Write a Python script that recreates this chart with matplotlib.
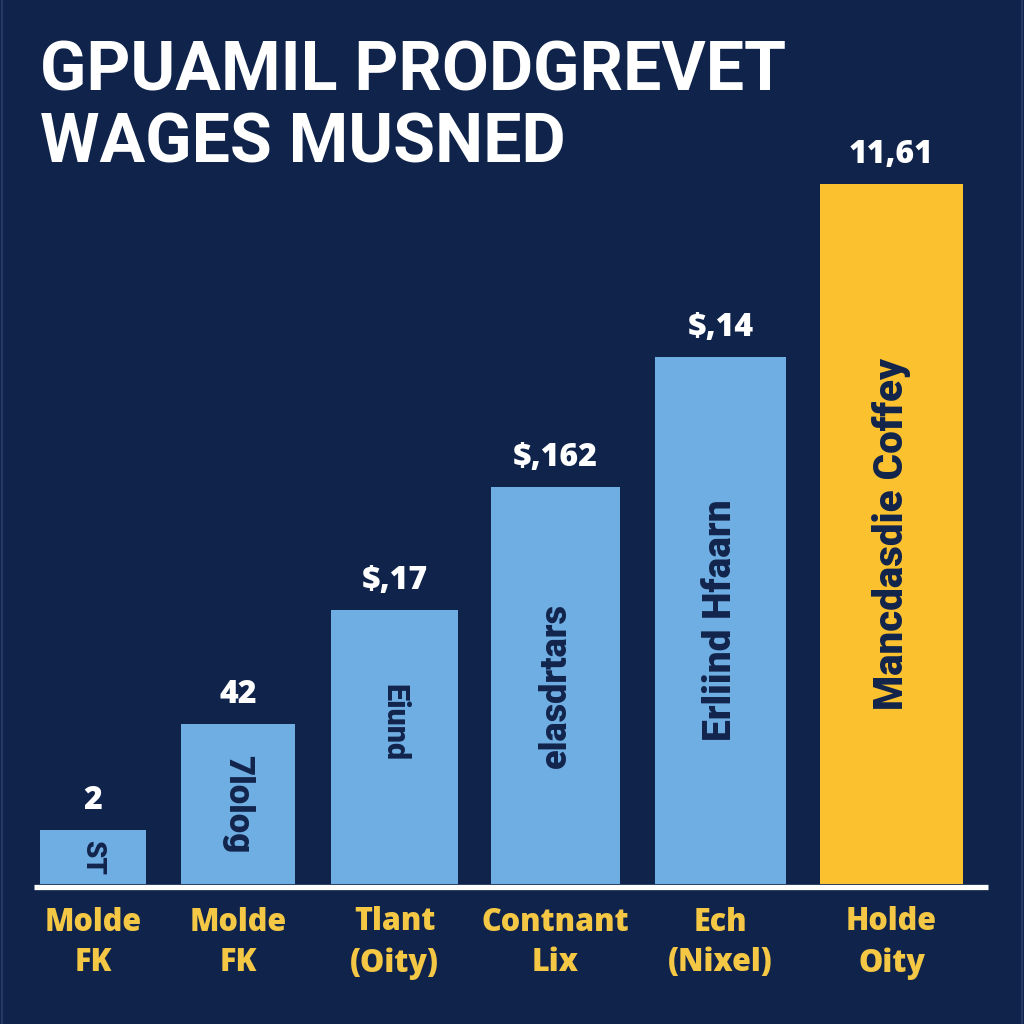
import matplotlib
matplotlib.use("Agg")
import matplotlib.pyplot as plt

# ---- data ----
categories = ["Molde\nFK", "Molde\nFK", "Tlant\n(Oity)", "Contnant\nLix", "Ech\n(Nixel)", "Holde\nOity"]
values = [54, 160, 274, 397, 527, 700]
value_labels = ["2", "42", "$,17", "$,162", "$,14", "11,61"]
inner_labels = ["ST", "7lolog", "Eiund", "elasdrtars", "Erliind Hfaarn", "Mancdasdie Coffey"]
title_lines = ["GPUAMIL PRODGREVET", "WAGES MUSNED"]

# ---- layout / style ----
BG = "#0f234b"
BLUE = "#6faee3"
GOLD = "#fbc12f"
NAVY = "#12244c"
YELLOW_TXT = "#f4c744"
bar_centers = [93, 238, 394.5, 555.5, 720.5, 891.5]
bar_widths = [106, 114, 127, 129, 131, 143]
bar_colors = [BLUE, BLUE, BLUE, BLUE, BLUE, GOLD]
inner_rot = [270, 270, 270, 90, 90, 90]
inner_size = [20, 25, 22, 26, 28, 29]
inner_shift = [0, 0, 25, 0, 0, 0]
base = 1024 - 884

fig = plt.figure(figsize=(10.24, 10.24), dpi=100, facecolor=BG)
ax = fig.add_axes([0, 0, 1, 1])
ax.set_facecolor(BG)
ax.set_xlim(0, 1024)
ax.set_ylim(0, 1024)
ax.axis("off")

ax.bar(bar_centers, values, width=bar_widths, bottom=base, color=bar_colors,
       edgecolor="none", zorder=2)
ax.plot([34, 988], [base - 2.5, base - 2.5], color="white", lw=3.8,
        solid_capstyle="butt", zorder=3)
# faint frame edges
ax.plot([1.5, 1.5], [0, 1024], color="#2a3e68", lw=1.2, zorder=1)
ax.plot([1021.5, 1021.5], [0, 1024], color="#2a3e68", lw=1.2, zorder=1)

bold_font = ["Roboto", "DejaVu Sans"]
wide_font = ["Open Sans", "DejaVu Sans"]
for xc, v, vl, il, rot, sz, sh in zip(bar_centers, values, value_labels, inner_labels,
                                       inner_rot, inner_size, inner_shift):
    ax.text(xc, base + v + 29, vl, ha="center", va="center", color="white",
            fontsize=23, fontweight="heavy", family=wide_font, zorder=4)
    ax.text(xc, base + v / 2 + sh, il, ha="center", va="center",
            rotation=rot, color=NAVY, fontsize=sz,
            fontweight="heavy", family=bold_font, zorder=4)

for xc, cat in zip(bar_centers, categories):
    ax.text(xc, 1024 - 943, cat, ha="center", va="center", color=YELLOW_TXT,
            fontsize=22, fontweight="heavy", family=wide_font,
            linespacing=1.35)

ax.text(40, 1024 - 72, title_lines[0], ha="left", va="center", color="white",
        fontsize=49, fontweight="bold", family=bold_font)
ax.text(40, 1024 - 144, title_lines[1], ha="left", va="center", color="white",
        fontsize=49, fontweight="bold", family=bold_font)

fig.savefig("out.png", dpi=100, facecolor=BG)
